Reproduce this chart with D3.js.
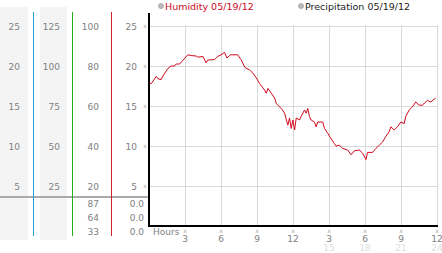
<!DOCTYPE html>
<html>
<head>
<meta charset="utf-8">
<script src="https://cdn.jsdelivr.net/npm/d3@7"></script>
<style>
  body { margin: 0; background: #fff; }
  svg { display: block; font-family: "DejaVu Sans", Verdana, sans-serif; }
  .lbl { fill: #808080; font-size: 9px; }
  .grid line { stroke: #d9d9d9; stroke-width: 1; }
</style>
</head>
<body>
<div id="chart"></div>
<script>
// humidity trace, hours since midnight
var hours = [0, 0.19, 0.61, 0.75, 1.02, 1.16, 1.58, 1.85, 2.13, 2.27, 2.55, 2.82, 3.24, 3.51, 3.93, 4.07,
    4.49, 4.76, 4.90, 5.46, 5.73, 6.00, 6.29, 6.50, 6.79, 7.39, 7.67, 8.00, 8.39, 8.66, 8.95, 9.22,
    9.63, 9.77, 9.91, 10.19, 10.47, 10.61, 11.02, 11.30, 11.57, 11.71, 11.85, 11.99, 12.13, 12.27,
    12.54, 12.68, 12.96, 13.10, 13.23, 13.37, 13.51, 13.79, 13.93, 14.06, 14.48, 14.62, 14.89, 15.17,
    15.45, 15.59, 15.86, 16.14, 16.55, 16.84, 17.11, 17.52, 17.80, 18.08, 18.21, 18.63, 18.91, 19.19,
    19.46, 19.74, 20.02, 20.16, 20.43, 20.71, 20.99, 21.26, 21.40, 21.68, 21.95, 22.23, 22.51, 22.78,
    23.20, 23.48, 23.89];
var humidity = [17.8, 17.8, 18.7, 18.4, 18.3, 18.75, 19.7, 20.0, 20.0, 20.25, 20.25, 20.7, 21.4, 21.3, 21.25, 21.1,
    21.2, 20.4, 20.75, 20.8, 21.2, 21.4, 21.7, 21.0, 21.4, 21.4, 20.8, 19.8, 19.5, 19.1, 18.5, 17.8,
    17.0, 16.6, 17.2, 16.6, 16.0, 15.3, 14.7, 14.1, 12.6, 13.5, 12.2, 13.25, 12.0, 13.5,
    13.25, 13.7, 14.5, 14.1, 14.7, 13.7, 13.25, 13.0, 12.4, 13.0, 13.0, 12.2, 11.6, 10.9,
    10.3, 10.0, 10.1, 9.7, 9.5, 8.9, 9.4, 9.5, 9.1, 8.3, 9.2, 9.2, 9.7, 10.1,
    10.5, 11.2, 11.8, 12.4, 12.0, 12.4, 13.0, 12.8, 13.7, 14.5, 14.9, 15.5, 15.1, 15.1,
    15.7, 15.5, 16.0];

// side scales
var col1Ticks = [25, 20, 15, 10, 5];
var col2Ticks = [125, 100, 75, 50, 25];
var col3Ticks = [100, 80, 60, 40, 20];
var col4Ticks = [25, 20, 15, 10, 5];
var statsCol3 = ["87", "64", "33"];
var statsCol4 = ["0.0", "0.0", "0.0"];

var hourTicks = [3, 6, 9, 12, 15, 18, 21, 24];
var hourLabels = ["3", "6", "9", "12", "3", "6", "9", "12"];
var hourLabels2 = ["", "", "", "", "15", "18", "21", "24"];

var legendNames = ["Humidity 05/19/12", "Precipitation 05/19/12"];

var W = 442, H = 253;
var x0 = 149, x1 = 437, yTop = 13, yBot = 226;

var svg = d3.select("#chart").append("svg")
    .attr("width", W).attr("height", H);

var x = d3.scaleLinear().domain([0, 24]).range([x0, x1]);
var y = d3.scaleLinear().domain([0, 25]).range([yBot, 26]);

function colScale(max) {
    return d3.scaleLinear().domain([0, max]).range([yBot, 26]);
}

// left panel backgrounds
svg.append("rect").attr("x", 0).attr("y", 7).attr("width", 28).attr("height", 233).attr("fill", "#f4f4f4");
svg.append("rect").attr("x", 40).attr("y", 7).attr("width", 27).attr("height", 233).attr("fill", "#f4f4f4");

// summary divider
svg.append("line").attr("x1", 0).attr("x2", x0).attr("y1", 197).attr("y2", 197)
    .attr("stroke", "#aaa").attr("stroke-width", 2);

// colored separators
var seps = [{x: 33, c: "#1fa3d8"}, {x: 72, c: "#22b022"}, {x: 111, c: "#d0202e"}];
svg.selectAll(".sep").data(seps).join("rect")
    .attr("x", d => d.x).attr("y", 12)
    .attr("width", 1).attr("height", 224)
    .attr("fill", d => d.c);

function colLabels(ticks, scale, xr) {
    svg.append("g").selectAll("text").data(ticks).join("text")
        .attr("class", "lbl")
        .attr("x", xr).attr("y", d => scale(d) + 3.5)
        .attr("text-anchor", "end")
        .text(d => d);
}
colLabels(col1Ticks, colScale(25), 20);
colLabels(col2Ticks, colScale(125), 60);
colLabels(col3Ticks, colScale(100), 99);
colLabels(col4Ticks, colScale(25), 137);

svg.append("g").selectAll("text").data(statsCol3).join("text")
    .attr("class", "lbl").attr("text-anchor", "end")
    .attr("x", 99).attr("y", (d, i) => 207 + i * 14).text(d => d);
svg.append("g").selectAll("text").data(statsCol4).join("text")
    .attr("class", "lbl").attr("text-anchor", "end")
    .attr("x", 144).attr("y", (d, i) => 207 + i * 14).text(d => d);

// grid
var grid = svg.append("g").attr("class", "grid");
grid.selectAll(".h").data(col4Ticks).join("line")
    .attr("x1", x0).attr("x2", x1)
    .attr("y1", d => Math.round(y(d)) + 0.5).attr("y2", d => Math.round(y(d)) + 0.5);
grid.selectAll(".v").data(hourTicks).join("line")
    .attr("x1", d => Math.round(x(d)) + 0.5).attr("x2", d => Math.round(x(d)) + 0.5)
    .attr("y1", 25).attr("y2", yBot);

// small tick glyphs
svg.append("g").selectAll("text").data(col4Ticks).join("text")
    .attr("x", 145).attr("y", d => y(d) + 2)
    .attr("text-anchor", "middle").attr("fill", "#aaa").style("font-size", "6px")
    .text("x");
svg.append("g").selectAll("text").data(hourTicks).join("text")
    .attr("x", d => x(d)).attr("y", 233)
    .attr("text-anchor", "middle").attr("fill", "#aaa").style("font-size", "6px")
    .text("x");

// humidity line
var line = d3.line().x((d, i) => x(hours[i])).y(d => y(d));
svg.append("path").datum(humidity)
    .attr("d", line)
    .attr("fill", "none").attr("stroke", "#d0081e").attr("stroke-width", 1);

// axes
svg.append("line").attr("x1", x0).attr("x2", x0).attr("y1", yTop).attr("y2", yBot + 1)
    .attr("stroke", "#000").attr("stroke-width", 2);
svg.append("line").attr("x1", x0 - 1).attr("x2", x1 + 1).attr("y1", yBot).attr("y2", yBot)
    .attr("stroke", "#000").attr("stroke-width", 2);

// hour labels
svg.append("text").attr("class", "lbl").attr("x", 153).attr("y", 235).text("Hours");
svg.append("g").selectAll("text").data(hourTicks).join("text")
    .attr("class", "lbl").attr("text-anchor", "middle")
    .attr("x", d => x(d)).attr("y", 242)
    .text((d, i) => hourLabels[i]);
svg.append("g").selectAll("text").data(hourTicks).join("text")
    .attr("text-anchor", "middle").attr("fill", "#ddd").style("font-size", "9px")
    .attr("x", d => x(d)).attr("y", 251)
    .text((d, i) => hourLabels2[i]);

// legend
var legX = [161, 301], legC = ["#cc0a1e", "#222"];
var leg = svg.append("g").selectAll("g").data(legendNames).join("g");
leg.append("circle").attr("cx", (d, i) => legX[i]).attr("cy", 6).attr("r", 2.5)
    .attr("fill", "#bbb").attr("stroke", "#999").attr("stroke-width", 0.7);
leg.append("text").attr("x", (d, i) => legX[i] + 4).attr("y", 10)
    .attr("fill", (d, i) => legC[i]).style("font-size", "9.5px")
    .text(d => d);
</script>
</body>
</html>
